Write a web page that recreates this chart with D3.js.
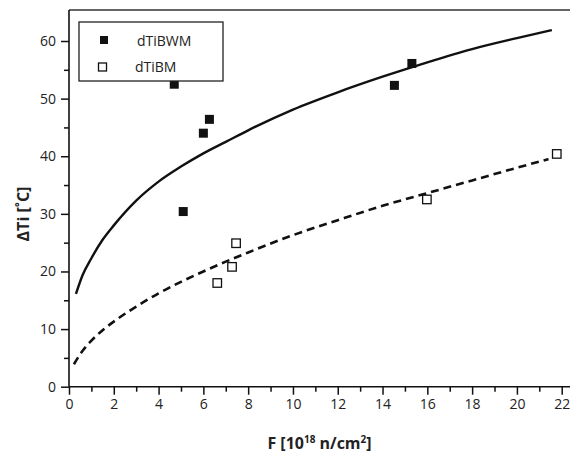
<!DOCTYPE html>
<html>
<head>
<meta charset="utf-8">
<script src="https://cdn.jsdelivr.net/npm/d3@7"></script>
<style>
  html, body { margin: 0; padding: 0; background: #fff; }
  svg { display: block; font-family: "Open Sans", "Noto Sans", sans-serif; }
</style>
</head>
<body>
<svg id="chart" width="570" height="454"></svg>
<script>
// ---- data ----
const seriesNames = ["dTiBWM", "dTiBM"];
const bwmX = [4.70, 6.00, 6.27, 5.10, 14.53, 15.31];
const bwmY = [52.5, 44.0, 46.4, 30.4, 52.3, 56.1];
const bmX = [6.62, 7.28, 7.46, 15.98, 21.78];
const bmY = [18.0, 20.8, 24.9, 32.5, 40.4];
// fitted curves
const fitBwmX = [0.31, 0.6, 1, 1.5, 2, 3, 4, 5, 6, 7, 8, 10, 12, 14, 16, 18, 20, 21.56];
const fitBwmY = [16.1, 19.3, 22.3, 25.5, 28.0, 32.3, 35.6, 38.2, 40.5, 42.5, 44.5, 48.1, 51.1, 53.8, 56.3, 58.6, 60.5, 61.9];
const fitBmX = [0.22, 0.6, 1, 1.5, 2, 3, 4, 5, 6, 7, 8, 10, 12, 14, 16, 18, 20, 21.41];
const fitBmY = [3.9, 6.2, 8.0, 9.8, 11.3, 13.9, 16.2, 18.2, 20.0, 21.7, 23.3, 26.3, 28.9, 31.4, 33.6, 35.8, 38.0, 39.5];
const xMajorTicks = [0, 2, 4, 6, 8, 10, 12, 14, 16, 18, 20, 22];
const xMinorTicks = [1, 3, 5, 7, 9, 11, 13, 15, 17, 19, 21];
const yMajorTicks = [0, 10, 20, 30, 40, 50, 60];
const yMinorTicks = [5, 15, 25, 35, 45, 55];

// ---- layout ----
const svg = d3.select("#chart");
const mLeft = 69, mBottom = 386.7, mTop = 10, mRight = 570;
const x = d3.scaleLinear().domain([0, 22]).range([mLeft, 561.7]);
const y = d3.scaleLinear().domain([0, 60]).range([mBottom, 41]);

// frame: top line
svg.append("line").attr("x1", mLeft).attr("x2", mRight).attr("y1", mTop).attr("y2", mTop)
  .attr("stroke", "#333").attr("stroke-width", 1.6);

// X axis
const gx = svg.append("g").attr("transform", `translate(0,${mBottom})`);
gx.call(d3.axisBottom(x).tickValues(xMajorTicks).tickSize(8).tickPadding(4).tickFormat(d3.format("d")));
gx.call(g => g.select(".domain").remove());
const gxm = svg.append("g").attr("transform", `translate(0,${mBottom})`);
gxm.call(d3.axisBottom(x).tickValues(xMinorTicks).tickSize(5).tickFormat(""));
gxm.call(g => g.select(".domain").remove());
svg.append("line").attr("x1", mLeft).attr("x2", mRight).attr("y1", mBottom).attr("y2", mBottom)
  .attr("stroke", "#111").attr("stroke-width", 1.6);

// Y axis
const gy = svg.append("g").attr("transform", `translate(${mLeft},0)`);
gy.call(d3.axisLeft(y).tickValues(yMajorTicks).tickSize(8).tickPadding(5).tickFormat(d3.format("d")));
gy.call(g => g.select(".domain").remove());
const gym = svg.append("g").attr("transform", `translate(${mLeft},0)`);
gym.call(d3.axisLeft(y).tickValues(yMinorTicks).tickSize(5).tickFormat(""));
gym.call(g => g.select(".domain").remove());
svg.append("line").attr("x1", mLeft).attr("x2", mLeft).attr("y1", mTop).attr("y2", mBottom)
  .attr("stroke", "#111").attr("stroke-width", 1.6);

svg.selectAll(".tick line").attr("stroke", "#111").attr("stroke-width", 1.5);
svg.selectAll(".tick text").attr("font-size", 14).attr("fill", "#222")
  .attr("font-family", "'Open Sans', 'Noto Sans', sans-serif");

// fitted curves
const line = d3.line().x(d => x(d[0])).y(d => y(d[1])).curve(d3.curveMonotoneX);
svg.append("path").datum(d3.zip(fitBwmX, fitBwmY)).attr("d", line)
  .attr("fill", "none").attr("stroke", "#111").attr("stroke-width", 2.4);
svg.append("path").datum(d3.zip(fitBmX, fitBmY)).attr("d", line)
  .attr("fill", "none").attr("stroke", "#111").attr("stroke-width", 2.6)
  .attr("stroke-dasharray", "8,5");

// markers
const ms = 9;
svg.selectAll(".bwm").data(d3.zip(bwmX, bwmY)).join("rect").attr("class", "bwm")
  .attr("x", d => x(d[0]) - ms / 2).attr("y", d => y(d[1]) - ms / 2)
  .attr("width", ms).attr("height", ms).attr("fill", "#111");
const ms2 = 8.5;
svg.selectAll(".bm").data(d3.zip(bmX, bmY)).join("rect").attr("class", "bm")
  .attr("x", d => x(d[0]) - ms2 / 2).attr("y", d => y(d[1]) - ms2 / 2)
  .attr("width", ms2).attr("height", ms2).attr("fill", "#fff")
  .attr("stroke", "#111").attr("stroke-width", 1.3);

// legend
const lg = svg.append("g");
lg.append("rect").attr("x", 79).attr("y", 22).attr("width", 144).attr("height", 59)
  .attr("fill", "#fff").attr("stroke", "#222").attr("stroke-width", 1.3);
lg.append("rect").attr("x", 100).attr("y", 36).attr("width", 8).attr("height", 8).attr("fill", "#111");
lg.append("rect").attr("x", 98.5).attr("y", 63).attr("width", 8).attr("height", 8)
  .attr("fill", "#fff").attr("stroke", "#111").attr("stroke-width", 1.3);
lg.append("text").attr("x", 137).attr("y", 46).attr("font-size", 14).attr("fill", "#222").text(seriesNames[0]);
lg.append("text").attr("x", 135).attr("y", 72).attr("font-size", 14).attr("fill", "#222").text(seriesNames[1]);

// axis titles
const xt = svg.append("text").attr("x", (mLeft + mRight) / 2).attr("y", 449)
  .attr("text-anchor", "middle").attr("font-size", 16).attr("font-weight", "bold").attr("fill", "#222");
xt.append("tspan").text("F [10");
xt.append("tspan").attr("font-size", 10).attr("dy", -6).text("18");
xt.append("tspan").attr("dy", 6).text(" n/cm");
xt.append("tspan").attr("font-size", 10).attr("dy", -6).text("2");
xt.append("tspan").attr("dy", 6).text("]");

svg.append("text").attr("transform", "translate(29,214) rotate(-90)")
  .attr("text-anchor", "middle").attr("font-size", 16).attr("font-weight", "bold").attr("fill", "#222")
  .text("ΔTi [˚C]");
</script>
</body>
</html>
